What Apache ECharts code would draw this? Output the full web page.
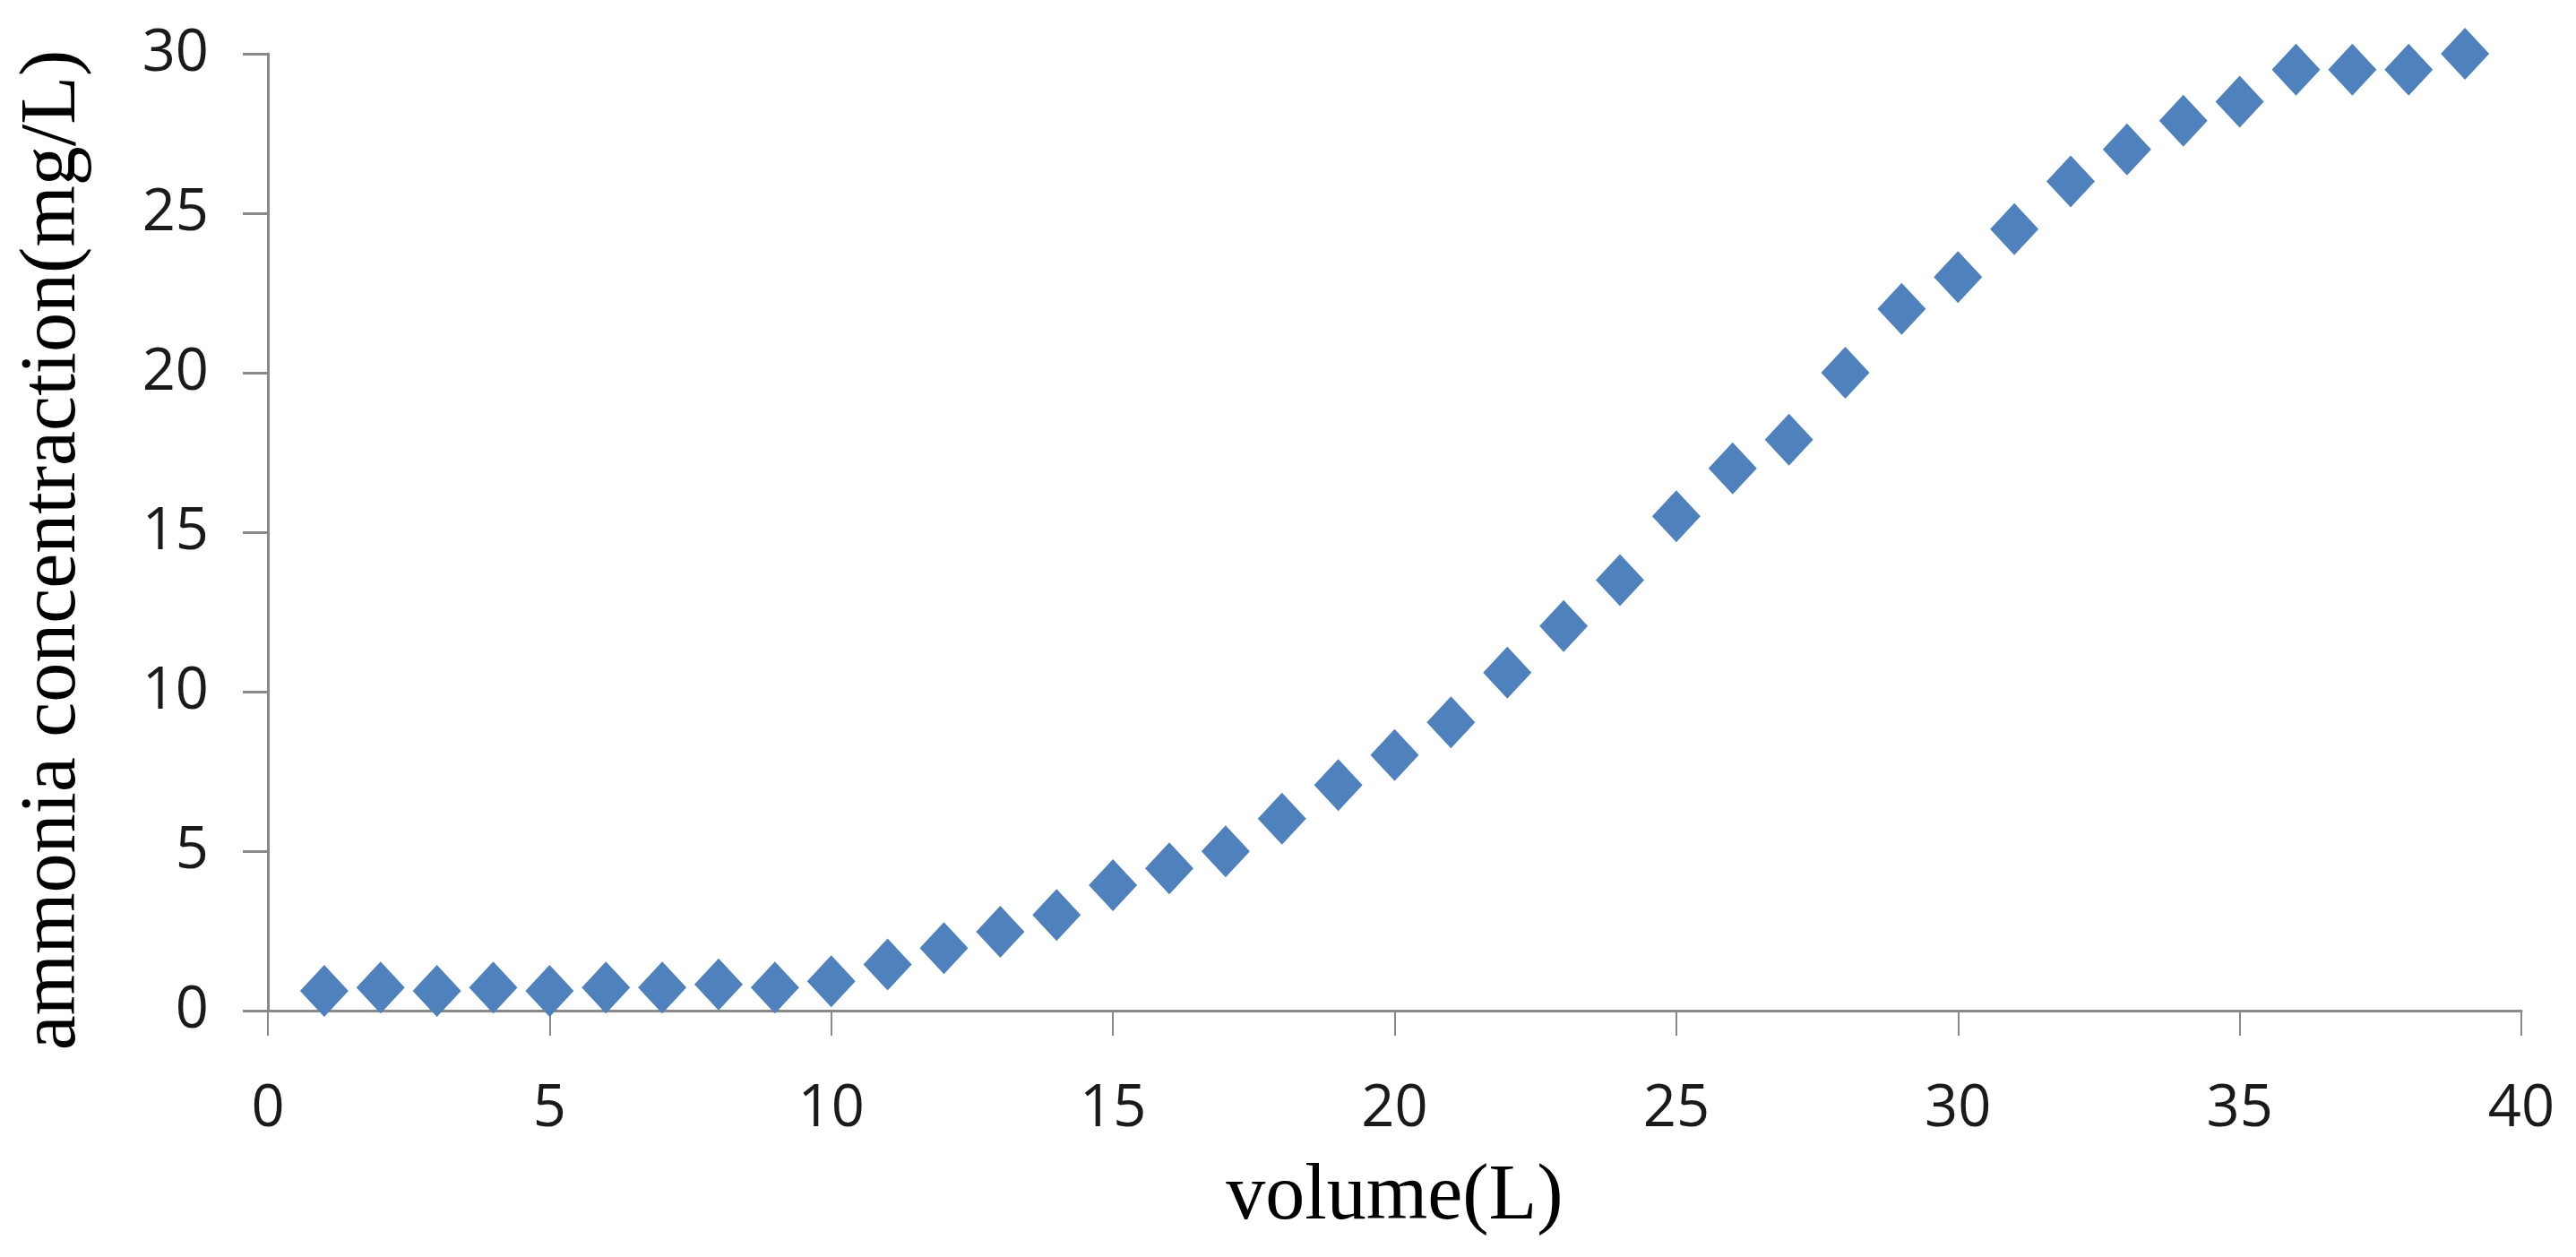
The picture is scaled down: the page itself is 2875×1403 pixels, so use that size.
<!DOCTYPE html>
<html>
<head>
<meta charset="utf-8">
<script src="https://cdn.jsdelivr.net/npm/echarts@6/dist/echarts.min.js"></script>
<style>
  html, body { margin: 0; padding: 0; background: #fff; }
  #chart { width: 2875px; height: 1403px; }
</style>
</head>
<body>
<div id="chart"></div>
<script>
// volume (L)
const volume = [1, 2, 3, 4, 5, 6, 7, 8, 9, 10, 11, 12, 13, 14, 15, 16, 17, 18, 19, 20,
  21, 22, 23, 24, 25, 26, 27, 28, 29, 30, 31, 32, 33, 34, 35, 36, 37, 38, 39]
// ammonia concentration (mg/L)
const ammonia = [0.62, 0.72, 0.62, 0.72, 0.62, 0.72, 0.72, 0.82, 0.72, 0.92,
  1.45, 1.96, 2.47, 3.0, 3.93, 4.46, 4.99, 6.02, 7.07, 8.01,
  9.04, 10.6, 12.06, 13.5, 15.5, 17.0, 17.9, 20.0, 22.0, 23.0,
  24.5, 26.0, 27.0, 27.9, 28.5, 29.5, 29.5, 29.5, 30.0]

const axisGray = '#898989'
const labelFont = { fontFamily: 'Open Sans', fontSize: 65, color: '#1a1a1a' }
const titleFont = { fontFamily: 'Liberation Serif', fontSize: 88, color: '#000' }

const chart = echarts.init(document.getElementById('chart'))
chart.setOption({
  backgroundColor: '#fff',
  animation: false,
  grid: { left: 299, right: 61, top: 60, bottom: 275 },
  xAxis: {
    type: 'value',
    min: 0,
    max: 40,
    interval: 5,
    name: 'volume(L)',
    nameLocation: 'middle',
    nameGap: 165,
    nameTextStyle: titleFont,
    axisLine: { onZero: false, lineStyle: { color: axisGray, width: 3 } },
    axisTick: { show: true, length: 28, lineStyle: { color: axisGray, width: 2 } },
    axisLabel: Object.assign({ margin: 78 }, labelFont),
    splitLine: { show: false }
  },
  yAxis: {
    type: 'value',
    min: 0,
    max: 30,
    interval: 5,
    name: 'ammonia concentraction(mg/L)',
    nameLocation: 'middle',
    nameGap: 195,
    nameTextStyle: Object.assign({ padding: [0, 40, 0, 0] }, titleFont),
    axisLine: { show: true, onZero: false, lineStyle: { color: axisGray, width: 3 } },
    axisTick: { show: true, length: 28, lineStyle: { color: axisGray, width: 3 } },
    axisLabel: Object.assign({ margin: 66 }, labelFont),
    splitLine: { show: false }
  },
  series: [
    {
      type: 'scatter',
      data: volume.map((v, i) => [v, ammonia[i]]),
      symbol: 'diamond',
      symbolSize: [54, 58],
      itemStyle: { color: '#4F81BD', opacity: 1 }
    }
  ]
})
</script>
</body>
</html>
